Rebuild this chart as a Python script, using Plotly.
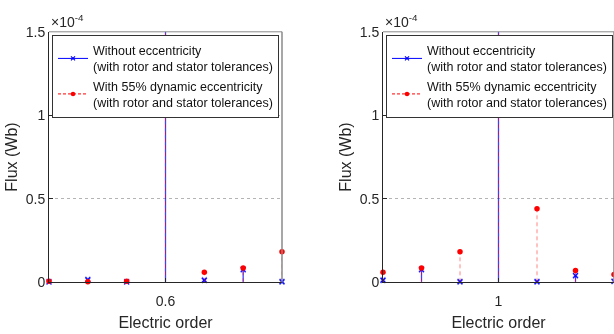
import plotly.graph_objects as go

# Data (flux in units of 1e-4 Wb)
orders = [0.3, 0.4, 0.5, 0.6, 0.7, 0.8, 0.9, 1.0, 1.1, 1.2, 1.3]
flux_no_ecc = [0.002, 0.015, 0.002, 3.0, 0.012, 0.076, 0.003, 9.0, 0.003, 0.040, 0.005]
flux_dyn_ecc = [0.005, 0.003, 0.005, 3.0, 0.059, 0.085, 0.182, 9.0, 0.440, 0.070, 0.046]
name_no = "Without eccentricity<br>(with rotor and stator tolerances)"
name_dyn = "With 55% dynamic eccentricity<br>(with rotor and stator tolerances)"
x_ranges = [[0.3, 0.9], [0.7, 1.3]]
x_ticks = [[0.6], [1.0]]
y_ticks = [0, 0.5, 1, 1.5]
y_tick_text = ["0", "0.5", "1", "1.5"]

W, H = 614, 334
FONT = "Liberation Sans, Arial, sans-serif"
BLUE = "#0000ff"
RED = "#ff0000"


def stems(xs, ys):
    sx, sy = [], []
    for x, y in zip(xs, ys):
        sx += [x, x, None]
        sy += [0, y, None]
    return sx, sy


fig = go.Figure()
series = [
    (flux_no_ecc, name_no, BLUE, "solid", "x-thin", 5, 1.3),
    (flux_dyn_ecc, name_dyn, RED, "dash", "circle", 5.5, 0.9),
]
for i in range(2):
    xa = "x" if i == 0 else "x2"
    ya = "y" if i == 0 else "y2"
    lg = "legend" if i == 0 else "legend2"
    for vals, nm, col, dash, sym, msz, lw in series:
        sx, sy = stems(orders, vals)
        fig.add_trace(go.Scatter(
            x=sx, y=sy, mode="lines", xaxis=xa, yaxis=ya,
            line=dict(color=col, width=lw, dash=dash if dash == "solid" else "4px,3px"),
            opacity=0.75 if col == BLUE else 0.55,
            showlegend=False, hoverinfo="skip"))
        fig.add_trace(go.Scatter(
            x=orders, y=vals, mode="markers", xaxis=xa, yaxis=ya,
            marker=dict(color=col, size=msz, symbol=sym,
                        line=dict(color=col, width=1.5 if sym == "x-thin" else 0)),
            cliponaxis=False, showlegend=False))
        fig.add_trace(go.Scatter(
            x=[None], y=[None], mode="lines+markers", xaxis=xa, yaxis=ya,
            name=nm, legend=lg,
            line=dict(color=col, width=1, dash=dash if dash == "solid" else "3px,2px"),
            marker=dict(color=col, size=4 if sym == "x-thin" else 4.5, symbol=sym,
                        line=dict(color=col, width=1.2 if sym == "x-thin" else 0))))

y_dom = [1 - 288 / H, 1 - 25 / H]
x_doms = [[49 / W, 282 / W], [383 / W, 1.0]]

axis_common = dict(
    showline=True, linecolor="#262626", linewidth=1, mirror=False,
    ticks="inside", ticklen=4, tickcolor="#262626",
    tickfont=dict(family=FONT, size=14, color="#262626"),
    zeroline=False,
)
for i in range(2):
    sfx = "" if i == 0 else "2"
    fig.layout["xaxis" + sfx] = dict(
        domain=x_doms[i], range=x_ranges[i], anchor="y" + sfx,
        tickvals=x_ticks[i], ticktext=["%g" % t for t in x_ticks[i]],
        showgrid=False, ticklabelstandoff=6,
        title=dict(text="Electric order", font=dict(family=FONT, size=16, color="#262626"), standoff=8),
        **axis_common)
    fig.layout["yaxis" + sfx] = dict(
        domain=y_dom, range=[0, 1.5], anchor="x" + sfx,
        tickvals=y_ticks, ticktext=y_tick_text,
        showgrid=True, gridcolor="#b4b4b4", gridwidth=1, griddash="dot",
        title=dict(text="Flux (Wb)", font=dict(family=FONT, size=16, color="#262626"), standoff=4),
        **axis_common)
    # top and right frame lines
    fig.add_shape(type="line", xref="x%s domain" % sfx, yref="y%s domain" % sfx,
                  x0=0, x1=1, y0=1, y1=1, line=dict(color="#8a8a8a", width=1))
    fig.add_shape(type="line", xref="x%s domain" % sfx, yref="y%s domain" % sfx,
                  x0=1, x1=1, y0=0, y1=1, line=dict(color="#8a8a8a", width=1.5))
    fig.add_annotation(xref="x%s domain" % sfx, yref="y%s domain" % sfx,
                       x=0, y=1, xanchor="left", yanchor="bottom", yshift=0,
                       text="×10<sup>-4</sup>", showarrow=False,
                       font=dict(family=FONT, size=14, color="#262626"))

leg_common = dict(
    xanchor="left", yanchor="top", bgcolor="white", bordercolor="#333333",
    borderwidth=1, font=dict(family=FONT, size=12.5, color="#111111"),
    itemwidth=30, tracegroupgap=0, valign="middle",
)
fig.update_layout(
    width=W, height=H,
    margin=dict(l=0, r=0, t=0, b=0),
    paper_bgcolor="white", plot_bgcolor="white",
    legend=dict(x=52 / W, y=1 - 28 / H, **leg_common),
    legend2=dict(x=386 / W, y=1 - 28 / H, **leg_common),
)

fig.write_html("out.html")
